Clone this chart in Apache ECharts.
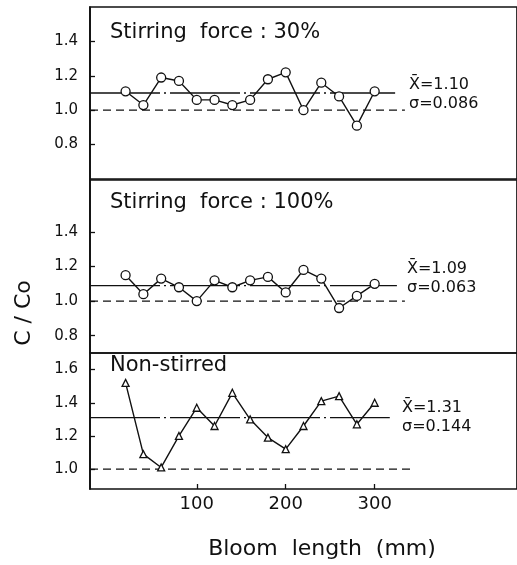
<!DOCTYPE html>
<html>
<head>
<meta charset="utf-8">
<script src="https://cdn.jsdelivr.net/npm/echarts@6/dist/echarts.min.js"></script>
<style>
  html, body { margin: 0; padding: 0; background: #fff; }
  #chart { width: 517px; height: 565px; }
</style>
</head>
<body>
<div id="chart"></div>
<script>
// Bloom length positions (mm)
const bloomLength = [20, 40, 60, 80, 100, 120, 140, 160, 180, 200, 220, 240, 260, 280, 300];

// C / Co ratios for each stirring condition
const ratioStir30 = [1.11, 1.03, 1.19, 1.17, 1.06, 1.06, 1.03, 1.06, 1.18, 1.22, 1.00, 1.16, 1.08, 0.91, 1.11];
const ratioStir100 = [1.15, 1.04, 1.13, 1.08, 1.00, 1.12, 1.08, 1.12, 1.14, 1.05, 1.18, 1.13, 0.96, 1.03, 1.10];
const ratioNoStir = [1.52, 1.09, 1.01, 1.20, 1.37, 1.26, 1.46, 1.30, 1.19, 1.12, 1.26, 1.41, 1.44, 1.27, 1.40];

// Panel titles and statistics
const panelTitles = ['Stirring  force : 30%', 'Stirring  force : 100%', 'Non-stirred'];
const meanValues = [1.10, 1.09, 1.31];
const sigmaValues = ['0.086', '0.063', '0.144'];
const meanLineEnd = [323, 325, 317];
const baseLineEnd = [334, 334, 342];
const baseValue = 1.0;

// Axis settings
const xTicks = [100, 200, 300];
const yTicks = [[0.8, 1.0, 1.2, 1.4], [0.8, 1.0, 1.2, 1.4], [1.0, 1.2, 1.4, 1.6]];
const yRanges = [[0.6, 1.6], [0.7, 1.7], [0.88, 1.70]];
const xRange = [-20, 460];

const FONT = '"DejaVu Sans", sans-serif';
const INK = '#111';

const gridBoxes = [
  { top: 7, height: 172 },
  { top: 180, height: 173 },
  { top: 353, height: 136 }
];

const seriesData = [ratioStir30, ratioStir100, ratioNoStir];
const symbols = ['circle', 'circle', 'triangle'];
const symbolSizes = [9, 9, 7];

const grids = gridBoxes.map(g => ({
  left: 90, right: -7, top: g.top, height: g.height,
  show: true, borderColor: INK, borderWidth: 1.7, backgroundColor: 'transparent'
}));

const xAxes = gridBoxes.map((g, i) => ({
  type: 'value', gridIndex: i, min: xRange[0], max: xRange[1],
  splitLine: { show: false },
  axisLine: { show: false, onZero: false },
  axisTick: { show: i === 2, inside: true, length: 5, customValues: xTicks, lineStyle: { color: INK, width: 1.3 } },
  axisLabel: { show: i === 2, customValues: xTicks, color: INK, fontFamily: FONT, fontSize: 18, margin: 6 }
}));

const yAxes = gridBoxes.map((g, i) => ({
  type: 'value', gridIndex: i, min: yRanges[i][0], max: yRanges[i][1],
  splitLine: { show: false },
  axisLine: { show: true, onZero: false, lineStyle: { color: INK, width: 1.7 } },
  axisTick: { show: true, inside: true, length: 5, customValues: yTicks[i], lineStyle: { color: INK, width: 1.3 } },
  axisLabel: {
    customValues: yTicks[i], color: INK, fontFamily: FONT, fontSize: 15, margin: 12,
    formatter: v => v.toFixed(1)
  }
}));

const series = [];
seriesData.forEach((vals, i) => {
  // reference level C/Co = 1
  series.push({
    type: 'line', xAxisIndex: i, yAxisIndex: i, symbol: 'none', silent: true,
    data: [[xRange[0], baseValue], [baseLineEnd[i], baseValue]],
    lineStyle: { color: INK, width: 1.3, type: [8, 5] }, z: 1
  });
  // mean level
  series.push({
    type: 'line', xAxisIndex: i, yAxisIndex: i, symbol: 'none', silent: true,
    data: [[xRange[0], meanValues[i]], [meanLineEnd[i], meanValues[i]]],
    lineStyle: { color: INK, width: 1.3, type: [70, 4, 2, 4] }, z: 1
  });
  // measured ratios
  series.push({
    type: 'line', xAxisIndex: i, yAxisIndex: i,
    data: bloomLength.map((x, k) => [x, vals[k]]),
    symbol: symbols[i], symbolSize: symbolSizes[i], showAllSymbol: true,
    lineStyle: { color: INK, width: 1.4 },
    itemStyle: { color: '#fff', borderColor: INK, borderWidth: 1.3 },
    z: 3
  });
});

const textStyle = (size) => ({ fill: INK, font: size + 'px ' + FONT });

const graphics = [];
const titleY = [33, 203, 366];
panelTitles.forEach((t, i) => {
  graphics.push({
    type: 'text', x: 110, y: titleY[i],
    style: Object.assign({ text: t, verticalAlign: 'middle' }, textStyle(21))
  });
});
const statX = [409, 407, 402];
const statY = [85, 269, 408];
meanValues.forEach((m, i) => {
  graphics.push({
    type: 'text', x: statX[i], y: statY[i],
    style: Object.assign({ text: 'X\u0304=' + m.toFixed(2), verticalAlign: 'middle' }, textStyle(16))
  });
  graphics.push({
    type: 'text', x: statX[i], y: statY[i] + 19,
    style: Object.assign({ text: '\u03c3=' + sigmaValues[i], verticalAlign: 'middle' }, textStyle(16))
  });
});
graphics.push({
  type: 'text', x: 24, y: 313, rotation: Math.PI / 2,
  style: Object.assign({ text: 'C / Co', align: 'center', verticalAlign: 'middle' }, textStyle(22))
});
graphics.push({
  type: 'text', x: 322, y: 549,
  style: Object.assign({ text: 'Bloom  length  (mm)', align: 'center', verticalAlign: 'middle' }, textStyle(22))
});

const chart = echarts.init(document.getElementById('chart'), null, { renderer: 'canvas' });
chart.setOption({
  animation: false,
  backgroundColor: '#fff',
  grid: grids,
  xAxis: xAxes,
  yAxis: yAxes,
  series: series,
  graphic: graphics
});
</script>
</body>
</html>
